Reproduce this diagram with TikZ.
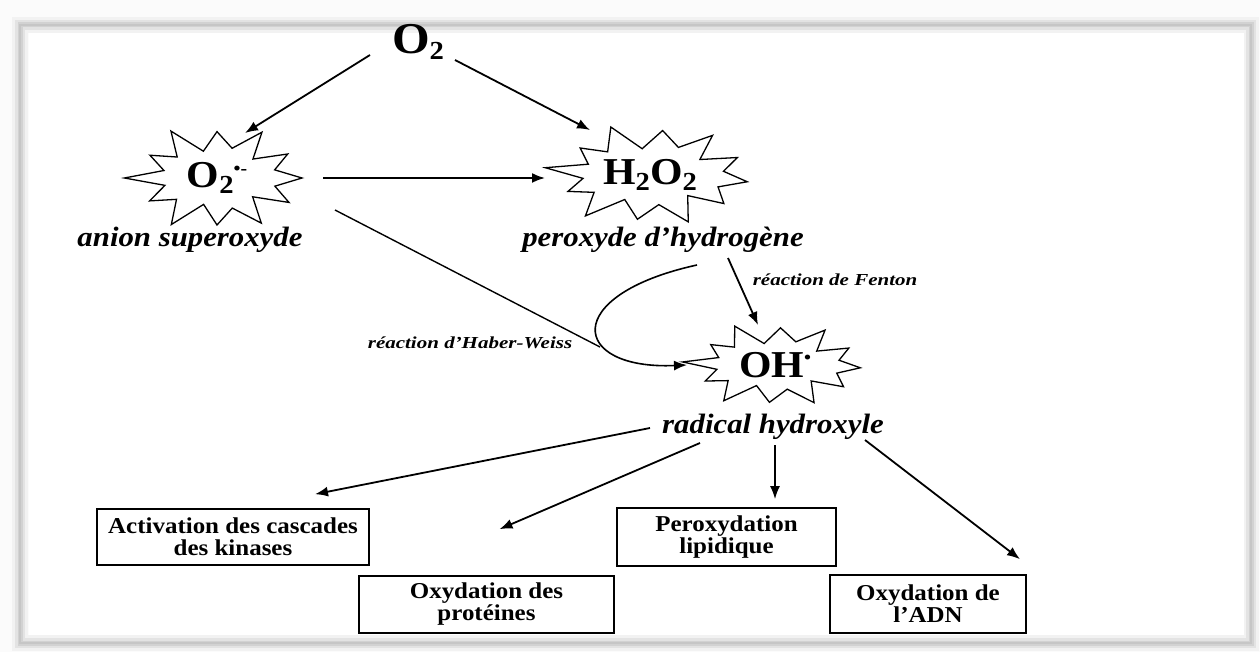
\documentclass[tikz,border=0pt]{standalone}
\usepackage{fontspec}
\setmainfont{Liberation Serif}
\newfontfamily\stfont{Liberation Serif}[FakeStretch=1.1]
\newfontfamily\smfont{Liberation Serif}[FakeStretch=1.25]
\usetikzlibrary{arrows.meta,calc}
\newcommand\mysub[1]{\raisebox{-0.32ex}{\fontsize{26}{26}\selectfont #1}}
% star outline around a named node: node, outer rx, outer ry, inner rx, inner ry, start angle
\newcommand\burstaround[6]{%
  \draw[burstline, shift={(#1.center)}]
    plot[samples=24, domain=0:23, variable=\k]
    ({(mod(\k,2)<0.5 ? #2 : #4)*(1+0.09*sin(\k*97+#6))*cos(\k*15+#6)},
     {(mod(\k,2)<0.5 ? #3 : #5)*(1+0.09*sin(\k*97+#6))*sin(\k*15+#6)}) -- cycle;}
\tikzset{
  big/.style={font=\stfont\bfseries\fontsize{44}{48}\selectfont, inner sep=0pt},
  burst/.style={font=\stfont\bfseries\fontsize{38}{40}\selectfont, inner sep=0pt},
  burstline/.style={line width=1.3pt, line join=miter},
  lab/.style={font=\stfont\bfseries\itshape\fontsize{28}{30}\selectfont, inner sep=0pt},
  slab/.style={font=\smfont\bfseries\itshape\fontsize{16.8}{18}\selectfont, inner sep=0pt},
  boxn/.style={draw, line width=1.6pt, align=center, inner sep=0pt,
     font=\stfont\bfseries\fontsize{22.7}{22}\selectfont},
  arr/.style={line width=1.8pt, -{Latex[length=13pt,width=10pt]}},
}
\begin{document}
\begin{tikzpicture}[x=1pt,y=-1pt]
\useasboundingbox (0,0) rectangle (1260,652);
\fill[gray!3] (0,0) rectangle (1260,652);
\draw[gray!10, line width=16pt] (20,25) rectangle (1251,643);
\draw[gray!22, line width=10pt] (20,25) rectangle (1251,643);
\draw[gray!35, line width=5pt] (20,25) rectangle (1251,643);
\draw[gray!45, line width=2pt] (20,25) rectangle (1251,643);
\fill[white] (29,33) rectangle (1244,635);

\node[big] (o2) at (418,42) {O\mysub{2}};

\node[burst] (sup) at (217,178)
  {O\mysub{2}\raisebox{0.75ex}{\fontsize{18}{18}\selectfont •-}};
\node[burst] (hp) at (650,175) {H\mysub{2}O\mysub{2}};
\node[burst] (oh) at (775,365)
  {OH\raisebox{0.8ex}{\fontsize{18}{18}\selectfont •}};
\burstaround{sup}{85}{50}{55}{29}{0}
\burstaround{hp}{97}{48}{68}{28}{8}
\burstaround{oh}{85}{40}{60}{23}{4}

\node[lab] (supl) at (190,240) {anion superoxyde};
\node[lab] (hpl) at (663,240) {peroxyde d’hydrogène};
\node[lab] (ohl) at (773,427) {radical hydroxyle};
\node[slab] (fen) at (835,280) {réaction de Fenton};
\node[slab] (hw) at (470,343) {réaction d’Haber-Weiss};

\node[boxn, minimum width=272pt, minimum height=56pt] (act) at (233,537) {Activation des cascades\\des kinases};
\node[boxn, minimum width=255pt, minimum height=57pt] (prot) at (486.5,604.5) {Oxydation des\\protéines};
\node[boxn, minimum width=219pt, minimum height=58pt] (perox) at (726.5,537) {Peroxydation\\lipidique};
\node[boxn, minimum width=196pt, minimum height=58pt] (adn) at (928,604) {Oxydation de\\l’ADN};

\draw[arr] ($(o2)+(-48,13)$) -- ($(sup)+(28,-45)$);
\draw[arr] ($(o2)+(37,18)$) -- ($(hp)+(-60,-45)$);
\draw[arr] ($(sup)+(106,0)$) -- ($(hp)+(-105,3)$);
\draw[line width=1.4pt] ($(sup)+(118,32)$) -- ($(oh)+(-175,-18)$);
\draw[arr, line width=1.6pt] ($(hpl)+(34,25)$) .. controls (560,295) and (570,370) .. ($(oh)+(-88,0)$);
\draw[arr] ($(hpl)+(65,18)$) -- ($(oh)+(-17,-40)$);

\draw[arr] ($(ohl)+(-123,1)$) -- ($(act.north)+(82,-14)$);
\draw[arr] ($(ohl)+(-73,16)$) -- ($(prot.north)+(13,-46)$);
\draw[arr] ($(ohl)+(2,18)$) -- ($(perox.north)+(48.5,-8)$);
\draw[arr] ($(ohl)+(92,13)$) -- ($(adn.north)+(92,-15)$);
\end{tikzpicture}
\end{document}
